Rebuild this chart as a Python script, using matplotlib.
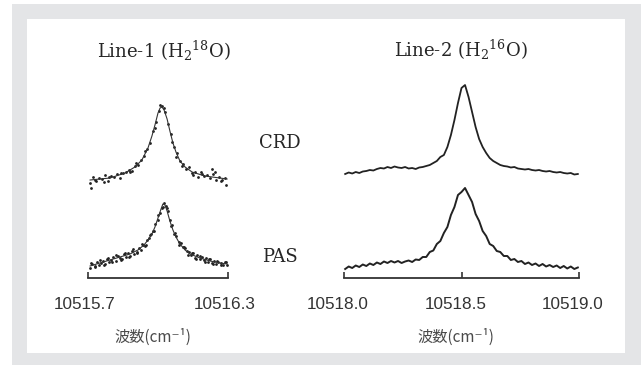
import matplotlib
matplotlib.use("Agg")
import matplotlib.pyplot as plt
from matplotlib.patches import Rectangle
from matplotlib.transforms import ScaledTranslation

plt.rcParams['mathtext.fontset'] = 'dejavuserif'

W, H = 641, 365

# ---------------- data (signal heights in arbitrary units) ----------------
L_TICKS = [10515.7, 10516.3]
L_TICKLABELS = ["10515.7", "10516.3"]
R_TICKS = [10518.0, 10518.5, 10519.0]
R_TICKLABELS = ["10518.0", "10518.5", "10519.0"]

L_CRD_X = [10515.709, 10515.721, 10515.734, 10515.747, 10515.760, 10515.773, 10515.786, 10515.799,
           10515.811, 10515.824, 10515.837, 10515.850, 10515.863, 10515.876, 10515.889, 10515.901,
           10515.914, 10515.927, 10515.940, 10515.953, 10515.966, 10515.979, 10515.991, 10516.004,
           10516.017, 10516.030, 10516.043, 10516.056, 10516.069, 10516.081, 10516.094, 10516.107,
           10516.120, 10516.133, 10516.146, 10516.159, 10516.171, 10516.184, 10516.197, 10516.210,
           10516.223, 10516.236, 10516.249, 10516.261, 10516.274, 10516.287,
           10515.712, 10515.770, 10516.230, 10516.292, 10515.905, 10516.075,
           10515.728, 10515.792, 10515.843, 10515.882, 10515.946, 10515.985, 10516.010,
           10516.024, 10516.062, 10516.101, 10516.152, 10516.190, 10516.243, 10516.268]
L_CRD_Y = [95, 101, 97, 100, 99, 103, 97, 102, 101, 104, 100, 105, 106, 108, 107, 112,
           113, 118, 122, 129, 135, 147, 156, 167, 172, 166, 154, 144, 131, 125, 117, 114,
           109, 111, 105, 106, 101, 106, 102, 103, 100, 104, 98, 101, 98, 100,
           90, 96, 109, 93, 115, 121,
           98, 101, 105, 106, 127, 150, 173, 170, 136, 112, 103, 104, 106, 97]
L_CRD_FIT_X = [10515.709, 10515.794, 10515.859, 10515.901, 10515.931, 10515.957, 10515.974,
               10515.987, 10516.000, 10516.009, 10516.017, 10516.026, 10516.039, 10516.051,
               10516.064, 10516.077, 10516.094, 10516.116, 10516.146, 10516.201, 10516.296]
L_CRD_FIT_Y = [98, 100, 105, 111, 118, 130, 142, 153, 165, 170, 171, 168, 159, 147,
               135, 126, 117, 111, 106, 102, 99]

L_PAS_X = [10515.710, 10515.719, 10515.728, 10515.737, 10515.746, 10515.755, 10515.764, 10515.773,
           10515.782, 10515.791, 10515.800, 10515.809, 10515.818, 10515.827, 10515.836, 10515.845,
           10515.854, 10515.863, 10515.872, 10515.881, 10515.890, 10515.899, 10515.908, 10515.917,
           10515.926, 10515.935, 10515.944, 10515.953, 10515.962, 10515.971, 10515.980, 10515.989,
           10515.998, 10516.007, 10516.016, 10516.025, 10516.034, 10516.043, 10516.052, 10516.061,
           10516.070, 10516.079, 10516.088, 10516.097, 10516.106, 10516.115, 10516.124, 10516.133,
           10516.142, 10516.151, 10516.160, 10516.169, 10516.178, 10516.187, 10516.196, 10516.205,
           10516.214, 10516.223, 10516.232, 10516.241, 10516.250, 10516.259, 10516.268, 10516.277,
           10516.286, 10516.295,
           10515.714, 10515.732, 10515.750, 10515.768, 10515.786, 10515.804, 10515.822, 10515.840,
           10515.858, 10515.876, 10515.894, 10515.912, 10515.930, 10515.948, 10515.966, 10515.984,
           10516.002, 10516.020, 10516.038, 10516.056, 10516.074, 10516.092, 10516.110, 10516.128,
           10516.146, 10516.164, 10516.182, 10516.200, 10516.218, 10516.236, 10516.254, 10516.272,
           10516.290]
L_PAS_Y = [10, 14, 12, 16, 13, 15, 17, 14, 19, 16, 18, 21, 17, 22, 20, 19, 24, 21, 25, 22,
           27, 24, 26, 30, 28, 33, 32, 38, 40, 44, 47, 54, 58, 65, 70, 75, 72, 67, 58, 53,
           44, 42, 36, 35, 31, 30, 27, 26, 23, 25, 20, 23, 19, 21, 18, 20, 16, 19, 15, 17,
           14, 16, 15, 13, 16, 13,
           15, 11, 18, 13, 20, 16, 23, 18, 25, 21, 29, 25, 34, 33, 43, 47,
           63, 71, 70, 52, 45, 33, 31, 23, 25, 19, 22, 16, 19, 14, 17, 13, 16]
L_PAS_FIT_X = [10515.709, 10515.751, 10515.794, 10515.837, 10515.880, 10515.914, 10515.940,
               10515.957, 10515.974, 10515.987, 10516.000, 10516.013, 10516.021, 10516.030,
               10516.039, 10516.051, 10516.064, 10516.077, 10516.094, 10516.116, 10516.137,
               10516.180, 10516.223, 10516.266, 10516.296]
L_PAS_FIT_Y = [12, 15, 18, 21, 24, 28, 33, 38, 44, 51, 60, 69, 74, 73, 67, 57, 48, 41,
               34, 28, 24, 20, 17, 15, 14]

R_X = [10518.005, 10518.020, 10518.035, 10518.050, 10518.065, 10518.080, 10518.095, 10518.110,
       10518.125, 10518.140, 10518.155, 10518.170, 10518.185, 10518.200, 10518.215, 10518.230,
       10518.245, 10518.260, 10518.275, 10518.290, 10518.305, 10518.320, 10518.335, 10518.350,
       10518.365, 10518.380, 10518.395, 10518.410, 10518.425, 10518.440, 10518.455, 10518.470,
       10518.485, 10518.500, 10518.515, 10518.530, 10518.545, 10518.560, 10518.575, 10518.590,
       10518.605, 10518.620, 10518.635, 10518.650, 10518.665, 10518.680, 10518.695, 10518.710,
       10518.725, 10518.740, 10518.755, 10518.770, 10518.785, 10518.800, 10518.815, 10518.830,
       10518.845, 10518.860, 10518.875, 10518.890, 10518.905, 10518.920, 10518.935, 10518.950,
       10518.965, 10518.980, 10518.995]
R_CRD_Y = [104, 105.5, 104.5, 106, 105, 106.5, 107, 108, 107.5, 109,
           110, 109.5, 111, 110, 111.5, 110.5, 110, 111, 109.5, 110,
           109, 110.5, 111, 112, 113, 115, 117, 121, 123, 131,
           143, 158, 175, 190, 193, 181, 166, 151, 139, 131,
           125, 120, 117, 115, 113, 112, 111.5, 110.5, 111, 109.5,
           109, 108.5, 109, 108, 107.5, 108, 107, 106.5, 107, 106,
           105.5, 106, 105, 104.5, 105, 103.5, 104]
R_PAS_Y = [9, 11.5, 10, 12.5, 11, 13.5, 12, 14.5, 13, 15.5,
           14, 16.5, 15, 17, 15.5, 17, 15, 16.5, 17.5, 16,
           18.5, 18, 21, 21, 26, 27.5, 34, 37, 45, 51,
           63, 71, 83, 86, 90, 83, 76, 64, 57, 47,
           42, 34, 32, 27, 26, 22, 22, 18, 19, 16,
           17, 14, 15.5, 13, 14.5, 12, 14, 11.5, 13, 11,
           12.5, 10, 12, 9.5, 11.5, 9, 10.5]

# ---------------- figure ----------------
fig = plt.figure(figsize=(W / 100, H / 100), dpi=100)
fig.patch.set_facecolor('white')
fig.patches.append(Rectangle((12 / W, 0), 1 - 12 / W, (H - 4) / H, transform=fig.transFigure,
                             facecolor='#e4e5e7', edgecolor='none', zorder=-10))
fig.patches.append(Rectangle((27 / W, 1 - 353 / H), 598 / W, 334 / H, transform=fig.transFigure,
                             facecolor='white', edgecolor='none', zorder=-9))

def fx(px):
    return px / W

def fy(py):
    return 1 - py / H

axL = fig.add_axes([fx(88), fy(278), 140 / W, 198 / H])
axR = fig.add_axes([fx(344), fy(278), 235 / W, 198 / H])

ink = '#222222'
for ax, ticks, labels, dx in [(axL, L_TICKS, L_TICKLABELS, -3), (axR, R_TICKS, R_TICKLABELS, -6)]:
    ax.set_facecolor('none')
    ax.set_xlim(ticks[0], ticks[-1])
    ax.set_ylim(0, 198)
    for s in ['left', 'right', 'top']:
        ax.spines[s].set_visible(False)
    ax.spines['bottom'].set_color('#333333')
    ax.spines['bottom'].set_linewidth(1.3)
    ax.set_yticks([])
    ax.set_xticks(ticks)
    ax.set_xticklabels(labels, fontsize=12.3, color='#333333',
                       fontfamily='Liberation Sans')
    ax.tick_params(axis='x', direction='in', length=4, width=1.2, color='#333333', pad=14)
    for lab in ax.get_xticklabels():
        lab.set_transform(lab.get_transform() + ScaledTranslation(dx / 100, 0, fig.dpi_scale_trans))

# left panel
axL.plot(L_CRD_FIT_X, L_CRD_FIT_Y, color='#333333', lw=0.8, clip_on=False)
axL.scatter(L_CRD_X, L_CRD_Y, s=4, color=ink, linewidths=0, clip_on=False)
axL.plot(L_PAS_FIT_X, L_PAS_FIT_Y, color='#333333', lw=0.8, clip_on=False)
axL.scatter(L_PAS_X, L_PAS_Y, s=4, color=ink, linewidths=0, clip_on=False)

# right panel
axR.plot(R_X, R_CRD_Y, color=ink, lw=1.3, clip_on=False)
axR.plot(R_X, R_PAS_Y, color=ink, lw=1.4, clip_on=False)

# texts
serif = 'DejaVu Serif'
tcol = '#262626'
fig.text(fx(164), fy(58), r'Line-1 (H$_2$$^{18}$O)', ha='center', va='baseline',
         fontsize=13, family=serif, color=tcol)
fig.text(fx(460.5), fy(57), r'Line-2 (H$_2$$^{16}$O)', ha='center', va='baseline',
         fontsize=13, family=serif, color=tcol)
fig.text(fx(280), fy(143), 'CRD', ha='center', va='center', fontsize=13, family=serif, color=tcol)
fig.text(fx(280), fy(257), 'PAS', ha='center', va='center', fontsize=13, family=serif, color=tcol)

cjk = ['Noto Sans CJK JP', 'DejaVu Sans']
fig.text(fx(153), fy(337), '波数(cm⁻¹)', ha='center', va='center', fontsize=11,
         family=cjk, color='#4a4a4a')
fig.text(fx(456), fy(337), '波数(cm⁻¹)', ha='center', va='center', fontsize=11,
         family=cjk, color='#4a4a4a')

fig.savefig('out.png', dpi=100)
